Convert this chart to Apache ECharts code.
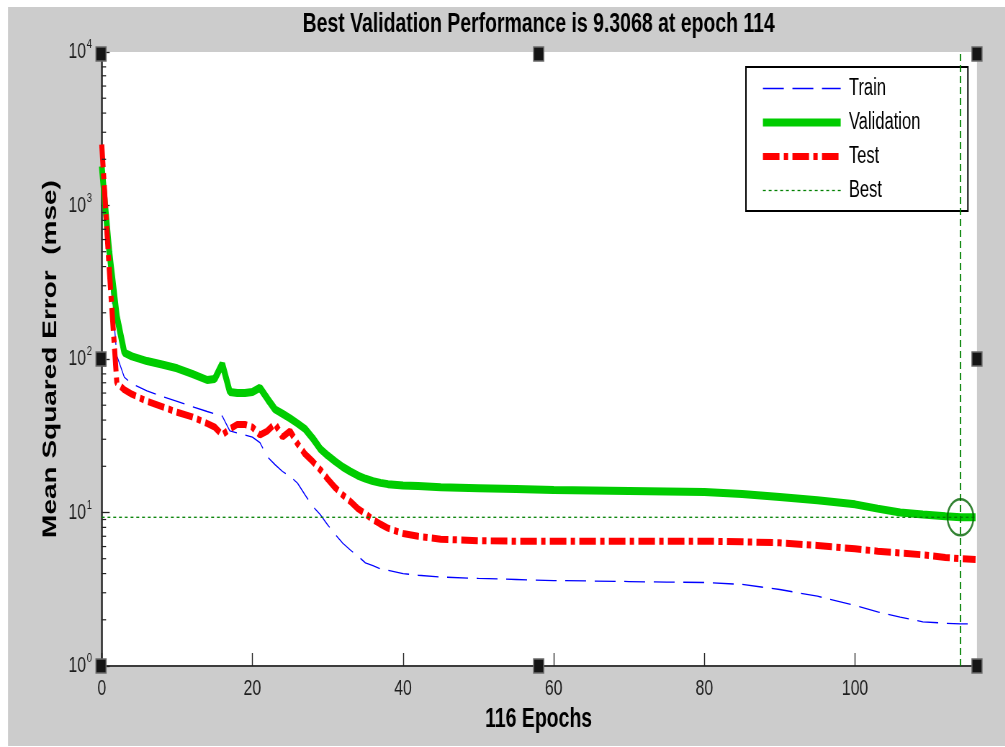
<!DOCTYPE html>
<html><head><meta charset="utf-8">
<script src="https://cdn.jsdelivr.net/npm/echarts@6/dist/echarts.min.js"></script>
<style>
html,body{margin:0;padding:0;background:#fff;overflow:hidden;}
#wrap{width:1005px;height:747px;overflow:hidden;position:relative;}
#chart{width:1396px;height:747px;transform:scaleX(0.72);transform-origin:0 0;}
</style></head><body><div id="wrap"><div id="chart"></div></div>
<script>
// ---- data ----
const epochs = [0,1,2,3,4,6,8,10,12,14,15,16,17,18,19,20,21,22,23,24,25,26,27,28,29,30,31,32,33,34,35,36,37,38,40,42,45,50,55,60,65,70,75,80,85,90,95,100,103,106,109,112,114,116];
const trainMse = [2200,420,105,76,69,62,57,53,49,45.5,44,42.5,34,33,32,31,28.5,23,20.5,18.5,17.2,15.5,13,11,9.7,8.3,7.2,6.3,5.7,5.2,4.7,4.5,4.3,4.2,4.0,3.9,3.8,3.72,3.66,3.6,3.58,3.55,3.52,3.5,3.4,3.15,2.85,2.48,2.25,2.08,1.94,1.9,1.88,1.88];
const validationMse = [1800,500,190,110,104,97,92,87,80,73,74,93,61,60,60,61,65,55,47,44,41,38,35,30.5,26,23.5,21.5,19.8,18.5,17.4,16.6,16,15.6,15.3,15,14.9,14.6,14.4,14.2,14,13.9,13.8,13.7,13.6,13.2,12.6,12.0,11.3,10.6,10.0,9.7,9.45,9.3068,9.32];
const testMse = [2500,380,70,63,59,53,49,45,42,38,36,32,35,37.5,37.5,36,32,34,38,31,34,28,24,21.5,19,16.5,14.5,13,11.8,10.6,9.8,9,8.4,7.9,7.3,7.0,6.7,6.55,6.5,6.5,6.5,6.5,6.5,6.5,6.45,6.35,6.1,5.8,5.6,5.45,5.3,5.1,5.0,4.95];
const bestEpoch = 114;
const bestPerf = 9.3068;
const totalEpochs = 116;
const xTicks = [0,20,40,60,80,100];
const yMin = 1, yMax = 10000;
const minorMultipliers = [2,3,4,5,6,7,8,9];
const minorDecades = [1,10,100,1000];
const titleText = 'Best Validation Performance is 9.3068 at epoch 114';

const FONT = '"Liberation Sans", Arial, Helvetica, sans-serif';
const W = 1396, H = 747;
const GL = 141.3, GT = 52, GW = 1213.6, GH = 614;

const pairs = arr => epochs.map((e, i) => [e, arr[i]]);
const minorVals = [];
minorDecades.forEach(d => minorMultipliers.forEach(m => minorVals.push([0, m * d])));

const chart = echarts.init(document.getElementById('chart'), null, {renderer: 'canvas', width: W, height: H});

const handles = [];
[GL - 1, GL + GW / 2, GL + GW + 2].forEach(x => {
  [GT + 2, GT + GH / 2, GT + GH].forEach((y, j) => {
    if (x === GL + GW / 2 && j === 1) return;
    handles.push({type: 'rect', z: 100, shape: {x: x - 7, y: y - 7, width: 14, height: 14},
      style: {fill: '#151515', stroke: '#6a6a6a', lineWidth: 1.5}});
  });
});

const hiddenSym = {opacity: 0, borderWidth: 0, color: 'rgba(0,0,0,0)'};

chart.setOption({
  animation: false,
  textStyle: {fontFamily: FONT},
  graphic: [
    {type: 'rect', z: -100, silent: true, shape: {x: 11.1, y: 7, width: W - 11.1, height: 739}, style: {fill: '#cccccc'}},
    {type: 'rect', z: -90, silent: true, shape: {x: GL, y: GT, width: GW + 2, height: GH}, style: {fill: '#ffffff'}},
    {type: 'text', z: 10, x: GL + GW / 2, y: 25, style: {text: titleText, font: 'bold 27px ' + FONT, fill: '#000', align: 'center', verticalAlign: 'middle'}}
  ].concat(handles),
  grid: {left: GL, top: GT, width: GW, height: GH, containLabel: false, outerBoundsMode: 'none', show: false},
  legend: {
    orient: 'vertical', left: 1036, top: 67,
    padding: [9.5, 66, 8.5, 19.6],
    itemWidth: 108, itemHeight: 14, itemGap: 10,
    backgroundColor: '#fff', borderColor: '#000', borderWidth: 2,
    selectedMode: false,
    itemStyle: hiddenSym,
    formatter: name => ' ' + name,
    textStyle: {fontSize: 23, color: '#000', lineHeight: 24, fontFamily: FONT},
    data: [
      {name: 'Train', lineStyle: {width: 1.3}, itemStyle: hiddenSym},
      {name: 'Validation', lineStyle: {width: 8}, itemStyle: hiddenSym},
      {name: 'Test', lineStyle: {width: 7}, itemStyle: hiddenSym},
      {name: 'Best', lineStyle: {width: 1.3}, itemStyle: hiddenSym}
    ]
  },
  xAxis: {
    type: 'value', min: 0, max: totalEpochs,
    axisLine: {show: true, lineStyle: {color: '#3c3c3c', width: 2}},
    axisTick: {show: true, inside: true, length: 13, customValues: xTicks, lineStyle: {color: '#222', width: 1.4}},
    axisLabel: {margin: 12, fontSize: 22, color: '#1e1e1e', fontFamily: FONT, customValues: xTicks},
    splitLine: {show: false},
    name: '116 Epochs', nameLocation: 'middle', nameGap: 40,
    nameTextStyle: {fontSize: 27, fontWeight: 'bold', color: '#000', fontFamily: FONT}
  },
  yAxis: {
    type: 'log', logBase: 10, min: yMin, max: yMax,
    axisLine: {show: true, lineStyle: {color: '#3c3c3c', width: 2.8}},
    axisTick: {show: true, inside: true, length: 11, lineStyle: {color: '#222', width: 1.3}},
    axisLabel: {
      margin: 13.5,
      formatter: v => '{b|10}{s|' + Math.round(Math.log10(v)) + '}',
      rich: {
        b: {fontSize: 22, color: '#1e1e1e', lineHeight: 28, fontFamily: FONT},
        s: {fontSize: 13, color: '#1e1e1e', lineHeight: 14, verticalAlign: 'top', fontFamily: FONT, padding: [0, 0, 0, 1]}
      }
    },
    splitLine: {show: false},
    name: 'Mean Squared Error  (mse)', nameLocation: 'middle', nameGap: 56,
    nameTextStyle: {fontSize: 28, fontWeight: 'bold', color: '#000', fontFamily: FONT}
  },
  series: [
    {name: 'Train', type: 'line', data: pairs(trainMse), symbol: 'none', z: 2,
      lineStyle: {color: '#0000ff', width: 1.3, type: [29, 12]}, itemStyle: {color: '#0000ff'}},
    {name: 'Validation', type: 'line', data: pairs(validationMse), symbol: 'none', z: 3,
      lineStyle: {color: '#00cc00', width: 8}, itemStyle: {color: '#00cc00'}},
    {name: 'Test', type: 'line', data: pairs(testMse), symbol: 'none', z: 4,
      lineStyle: {color: '#ff0000', width: 7, type: [23, 6, 6, 6]}, itemStyle: {color: '#ff0000'}},
    {name: 'Best', type: 'line', data: [[0, bestPerf], [totalEpochs, bestPerf]], symbol: 'none', z: 5,
      lineStyle: {color: '#008000', width: 1.3, type: [4, 4]}, itemStyle: {color: '#008000'},
      markLine: {silent: true, symbol: 'none', label: {show: false},
        lineStyle: {color: '#008000', width: 1.8, type: [7, 4]},
        data: [{xAxis: bestEpoch}]}},
    {name: 'BestPoint', type: 'scatter', data: [[bestEpoch, bestPerf]], symbol: 'circle', symbolSize: 36, z: 6,
      itemStyle: {color: 'rgba(0,0,0,0)', borderColor: '#006400', borderWidth: 2.5}},
    {name: 'minorTicks', type: 'custom', data: minorVals, silent: true, z: 7,
      renderItem: (params, api) => {
        const p = api.coord([0, api.value(1)]);
        return {type: 'line', shape: {x1: p[0], y1: p[1], x2: p[0] + 6, y2: p[1]}, style: {stroke: '#222', lineWidth: 1.2}};
      }}
  ]
});
</script></body></html>
